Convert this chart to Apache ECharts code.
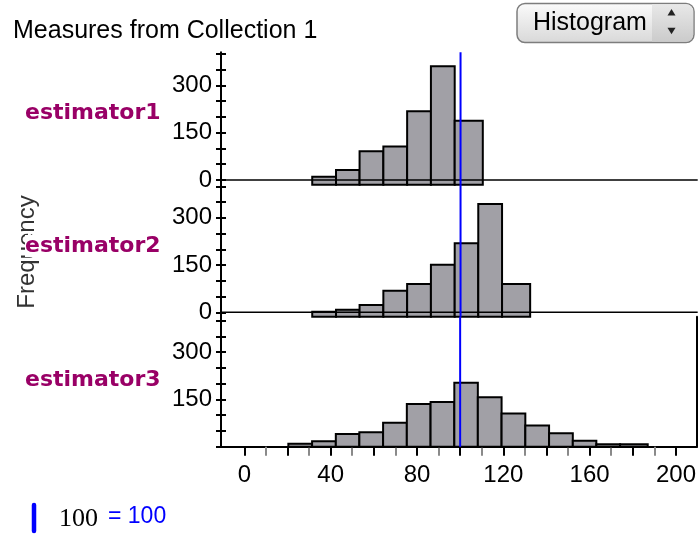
<!DOCTYPE html>
<html><head><meta charset="utf-8">
<script src="https://cdn.jsdelivr.net/npm/echarts@6/dist/echarts.min.js"></script>
<style>html,body{margin:0;padding:0;background:#fff}#c{width:699px;height:535px}</style>
</head><body><div id="c"></div>
<script>
// ---- data ----
const panelNames = ['estimator1', 'estimator2', 'estimator3'];
const est1Lo = [31.4, 42.4, 53.3, 64.3, 75.3, 86.3, 97.3];
const est1Hi = [42.4, 53.3, 64.3, 75.3, 86.3, 97.3, 110.3];
const est1Count = [10, 32, 91, 106, 218, 361, 188];
const est2Lo = [31.4, 42.4, 53.3, 64.3, 75.3, 86.3, 97.3, 108.2, 119.2];
const est2Hi = [42.4, 53.3, 64.3, 75.3, 86.3, 97.3, 108.2, 119.2, 132.2];
const est2Count = [2, 8, 23, 68, 90, 151, 219, 344, 90];
const est3Lo = [20.4, 31.4, 42.4, 53.3, 64.3, 75.3, 86.3, 97.3, 108.2, 119.2, 130.2, 141.2, 152.2, 163.1, 174.1];
const est3Hi = [31.4, 42.4, 53.3, 64.3, 75.3, 86.3, 97.3, 108.2, 119.2, 130.2, 141.2, 152.2, 163.1, 174.1, 186.9];
const est3Count = [9, 17, 40, 46, 76, 135, 142, 203, 157, 105, 67, 43, 19, 8, 8];
const yTicks12 = [0, 50, 100, 150, 200, 250, 300, 350, 400];
const yTicks3 = [0, 50, 100, 150, 200, 250, 300, 350, 400];
const yLabels12 = [0, 150, 300];
const yLabels3 = [150, 300];
const xMajorTicks = [0, 20, 40, 60, 80, 100, 120, 140, 160, 180, 200];
const xMinorTicks = [10, 30, 50, 70, 90, 110, 130, 150, 170, 190];
const xLabels = [0, 40, 80, 120, 160, 200];
const refValue = 100;
const xMin = -10.8, xMax = 209.7;
const yMins = [-15, -14, 0];
const yMaxs = [405, 405, 412];

// ---- build chart ----
const los = [est1Lo, est2Lo, est3Lo];
const his = [est1Hi, est2Hi, est3Hi];
const counts = [est1Count, est2Count, est3Count];
const gridTops = [52.3, 184.7, 316.7];
const gridHeights = [132.4, 132, 130];
const FONT = '"Liberation Sans", Arial, sans-serif';

const grids = [], xAxes = [], yAxes = [], series = [];
for (let i = 0; i < 3; i++) {
  grids.push({ left: 221, top: gridTops[i], width: 476.7, height: gridHeights[i] });
  const last = i === 2;
  xAxes.push({
    type: 'value', gridIndex: i, min: xMin, max: xMax, position: 'bottom',
    show: last,
    axisLine: { show: last, onZero: false, lineStyle: { color: '#000', width: 2 } },
    axisTick: { show: last, customValues: xMajorTicks, length: 9, lineStyle: { color: '#000', width: 2 } },
    axisLabel: { show: last, customValues: xLabels, color: '#000', fontSize: 24, fontFamily: FONT, margin: 17 },
    splitLine: { show: false }
  });
  if (last) {
    xAxes.push({
      type: 'value', gridIndex: i, min: xMin, max: xMax, position: 'bottom', offset: 0,
      axisLine: { show: false, onZero: false },
      axisTick: { show: true, customValues: xMinorTicks, length: 9, lineStyle: { color: '#8a8a8a', width: 2 } },
      axisLabel: { show: false },
      splitLine: { show: false }
    });
  }
  const yMainIdx = yAxes.length;
  yAxes.push({
    type: 'value', gridIndex: i, min: yMins[i], max: yMaxs[i], position: 'left',
    axisLine: { show: true, onZero: false, lineStyle: { color: '#000', width: 2 } },
    axisTick: { show: true, inside: false, customValues: last ? yTicks3 : yTicks12, length: 5, lineStyle: { color: '#000', width: 2 } },
    axisLabel: { show: true, customValues: last ? yLabels3 : yLabels12, color: '#000', fontSize: 24, fontFamily: FONT, margin: 9 },
    splitLine: { show: false }
  });
  yAxes.push({
    type: 'value', gridIndex: i, min: yMins[i], max: yMaxs[i], position: 'left', offset: 0,
    axisLine: { show: false, onZero: false },
    axisTick: { show: true, inside: true, customValues: last ? yTicks3 : yTicks12, length: 5, lineStyle: { color: '#000', width: 2 } },
    axisLabel: { show: false },
    splitLine: { show: false }
  });
  if (last) {
    yAxes.push({
      type: 'value', gridIndex: i, min: yMins[i], max: yMaxs[i], position: 'right', offset: 0,
      axisLine: { show: true, onZero: false, lineStyle: { color: '#000', width: 2 } },
      axisTick: { show: false }, axisLabel: { show: false }, splitLine: { show: false }
    });
  }
  const data = los[i].map((lo, k) => [lo, his[i][k], counts[i][k]]);
  const yBase = yMins[i];
  series.push({
    type: 'custom', xAxisIndex: last ? 2 : i, yAxisIndex: yMainIdx,
    data: data,
    renderItem: function (params, api) {
      const p0 = api.coord([api.value(0), api.value(2)]);
      const p1 = api.coord([api.value(1), yBase]);
      return {
        type: 'rect',
        shape: { x: p0[0], y: p0[1], width: p1[0] - p0[0], height: p1[1] - p0[1] },
        style: { fill: '#a1a0a6', stroke: '#000', lineWidth: 2 }
      };
    },
    z: 2
  });
  if (!last) {
    series.push({
      type: 'line', xAxisIndex: i, yAxisIndex: yMainIdx, symbol: 'none', silent: true,
      data: [[xMin, 0], [xMax, 0]],
      lineStyle: { color: '#000', width: 1.5 }, z: 3
    });
  }
  series.push({
    type: 'line', xAxisIndex: last ? 2 : i, yAxisIndex: yMainIdx, symbol: 'none', silent: true,
    data: [[refValue, yBase], [refValue, yMaxs[i]]],
    lineStyle: { color: '#0000ff', width: 2 }, z: 4
  });
}

const labelYs = [113, 246, 380];
const graphic = [
  { type: 'text', x: 13, y: 31, style: { text: 'Measures from Collection 1', font: '25px ' + FONT, fill: '#000', verticalAlign: 'middle' } },
  { type: 'text', x: 27, y: 252, rotation: Math.PI / 2, style: { text: 'Frequency', font: '24px ' + FONT, fill: '#333', align: 'center', verticalAlign: 'middle' } },
  // button
  { type: 'rect', shape: { x: 517, y: 3.5, width: 177, height: 39, r: 8 },
    style: { fill: new echarts.graphic.LinearGradient(0, 0, 0, 1, [{ offset: 0, color: '#fbfbfb' }, { offset: 1, color: '#d8d8d8' }]), stroke: '#7d7d7d', lineWidth: 1.5 } },
  { type: 'rect', shape: { x: 652, y: 4.3, width: 41.2, height: 37.4, r: [0, 7, 7, 0] },
    style: { fill: new echarts.graphic.LinearGradient(0, 0, 0, 1, [{ offset: 0, color: '#e8e8e8' }, { offset: 1, color: '#cbcbcb' }]) } },
  { type: 'text', x: 533, y: 23, style: { text: 'Histogram', font: '25px ' + FONT, fill: '#000', verticalAlign: 'middle' } },
  { type: 'polygon', shape: { points: [[667.5, 15.5], [675.5, 15.5], [671.5, 9]] }, style: { fill: '#222' } },
  { type: 'polygon', shape: { points: [[667.5, 27.7], [675.5, 27.7], [671.5, 34.2]] }, style: { fill: '#222' } },
  // legend
  { type: 'line', shape: { x1: 34, y1: 505, x2: 34, y2: 531 }, style: { stroke: '#0000ff', lineWidth: 4.5, lineCap: 'round' } },
  { type: 'text', x: 59, y: 519, style: { text: String(refValue), font: '26px "Liberation Serif", "Times New Roman", serif', fill: '#000', verticalAlign: 'middle' } },
  { type: 'text', x: 108, y: 517, style: { text: '= ' + refValue, font: '23px ' + FONT, fill: '#0000ff', verticalAlign: 'middle' } }
];
panelNames.forEach((n, i) => {
  graphic.push({ type: 'text', x: 25, y: labelYs[i], z: 10,
    style: { text: n, font: 'bold 22px "DejaVu Sans", sans-serif', fill: '#990066', verticalAlign: 'middle',
             backgroundColor: '#fff', padding: [0, 0, 0, 0] } });
});

const chart = echarts.init(document.getElementById('c'), null, { renderer: 'canvas' });
chart.setOption({
  animation: false,
  grid: grids, xAxis: xAxes, yAxis: yAxes, series: series, graphic: graphic
});
</script></body></html>
